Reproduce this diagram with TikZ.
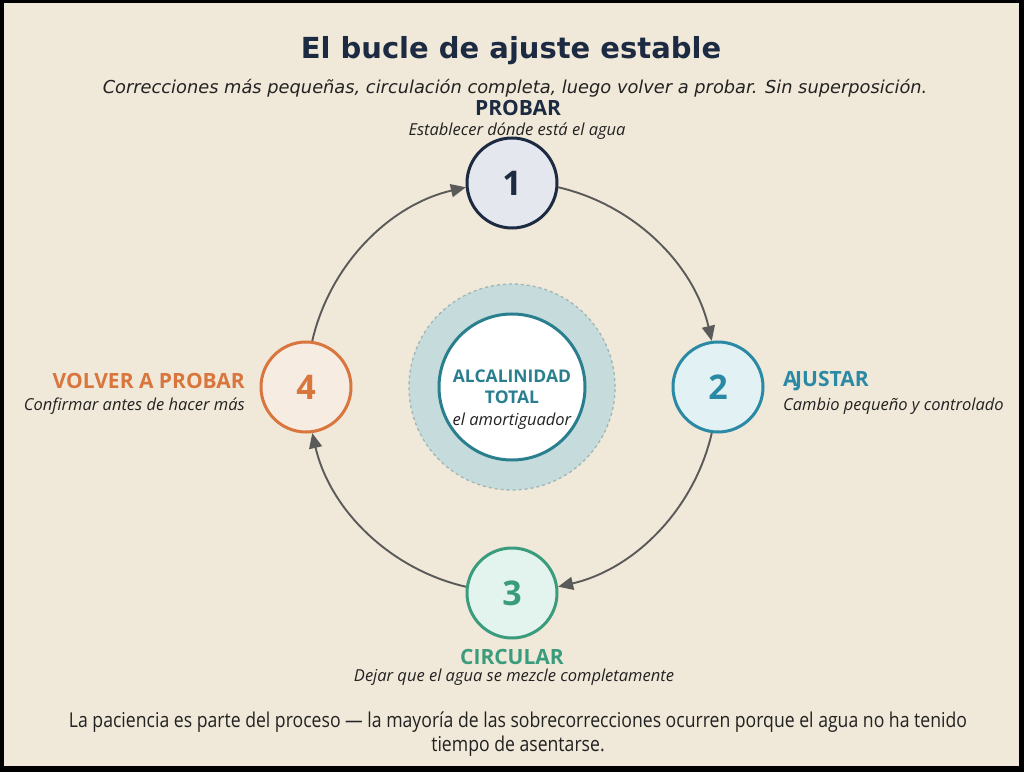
\documentclass[tikz,border=0pt]{standalone}
\usepackage{fontspec}
\setmainfont{Open Sans}
\newfontfamily\titlefont{DejaVu Sans}
\newfontfamily\condfont[FakeStretch=0.86]{Open Sans}
\usetikzlibrary{arrows.meta,calc}
\definecolor{bg}{HTML}{F0E8D8}
\definecolor{navy}{HTML}{1C2A42}
\definecolor{navyfill}{HTML}{E4E7EE}
\definecolor{teal}{HTML}{2A8AA6}
\definecolor{tealfill}{HTML}{E2F1F3}
\definecolor{green}{HTML}{3A9C7C}
\definecolor{greenfill}{HTML}{E3F4EE}
\definecolor{orange}{HTML}{D9763E}
\definecolor{orangefill}{HTML}{F7ECE2}
\definecolor{ctr}{HTML}{2A7F8E}
\definecolor{halo}{HTML}{C6DCDC}
\definecolor{halobd}{HTML}{9FB6B6}
\definecolor{arr}{HTML}{5A5A5A}
\definecolor{txt}{HTML}{222222}
\tikzset{
  stepnode/.style={circle, minimum size=90pt, inner sep=0pt, line width=3pt,
    font=\bfseries\fontsize{34}{36}\selectfont},
  headlbl/.style={inner sep=0pt, font=\bfseries\fontsize{21}{24}\selectfont},
  sublbl/.style={inner sep=0pt, text=txt, font=\itshape\fontsize{16.5}{19}\selectfont},
  looparrow/.style={draw=arr, line width=1.9pt, -{Triangle[length=15pt,width=13pt]}},
}
\begin{document}
\begin{tikzpicture}[x=1pt,y=1pt]
\fill[black] (0,0) rectangle (1024,772);
\fill[bg] (4,6) rectangle (1019,769);
\useasboundingbox (0,0) rectangle (1024,772);

% title
\node[inner sep=0pt, text=navy, font=\titlefont\bfseries\fontsize{29}{34}\selectfont] (title) at (511,721) {El bucle de ajuste estable};
\node[inner sep=0pt, text=txt, font=\titlefont\itshape\fontsize{17.8}{21}\selectfont] (subtitle) at (515,684) {Correcciones más pequeñas, circulación completa, luego volver a probar. Sin superposición.};

% centre
\coordinate (C) at (512,385);
\node[circle, minimum size=206pt, fill=halo, draw=halobd, dashed, line width=1.3pt] (halo) at (C) {};
\node[circle, minimum size=146pt, fill=white, draw=ctr, line width=3pt] (core) at (C) {};
\node[inner sep=0pt, text=ctr, font=\bfseries\fontsize{17.5}{20}\selectfont] (c1) at (512,396) {ALCALINIDAD};
\node[inner sep=0pt, text=ctr, font=\bfseries\fontsize{17.5}{20}\selectfont] (c2) at (512,375) {TOTAL};
\node[inner sep=0pt, text=txt, font=\itshape\fontsize{16.5}{19}\selectfont] (c3) at (512,351) {el amortiguador};

% steps
\node[stepnode, draw=navy, fill=navyfill, text=navy] (n1) at (512,589) {1};
\node[stepnode, draw=teal, fill=tealfill, text=teal] (n2) at (718,385) {2};
\node[stepnode, draw=green, fill=greenfill, text=green] (n3) at (512,179) {3};
\node[stepnode, draw=orange, fill=orangefill, text=orange] (n4) at (306,385) {4};

% arrows
\draw[looparrow] ($(C)+(77:205)$) arc[start angle=77, end angle=13, radius=205pt];
\draw[looparrow] ($(C)+(-13:205)$) arc[start angle=-13, end angle=-77, radius=205pt];
\draw[looparrow] ($(C)+(-103:205)$) arc[start angle=-103, end angle=-167, radius=205pt];
\draw[looparrow] ($(C)+(167:205)$) arc[start angle=167, end angle=103, radius=205pt];

% labels
\node[headlbl, text=navy] (l1) at (518,664) {PROBAR};
\node[sublbl] (s1) at (517,641) {Establecer dónde está el agua};
\node[headlbl, text=teal, anchor=west] (l2) at (783,391) {A\kern-2.5pt JUSTAR};
\node[sublbl, anchor=west] (s2) at (783,366) {Cambio pequeño y controlado};
\node[headlbl, text=green] (l3) at (512,115) {CIRCULAR};
\node[sublbl] (s3) at (514,95) {Dejar que el agua se mezcle completamente};
\node[headlbl, text=orange, anchor=east] (l4) at (245,391) {VOLVER A PROBAR};
\node[sublbl, anchor=east] (s4) at (245,366) {Confirmar antes de hacer más};

% footer
\node[inner sep=0pt, text=txt, align=center, font=\condfont\fontsize{20.5}{24}\selectfont] (foot) at (518,38) {La paciencia es parte del proceso — la mayoría de las sobrecorrecciones ocurren porque el agua no ha tenido\\tiempo de asentarse.};
\end{tikzpicture}
\end{document}
